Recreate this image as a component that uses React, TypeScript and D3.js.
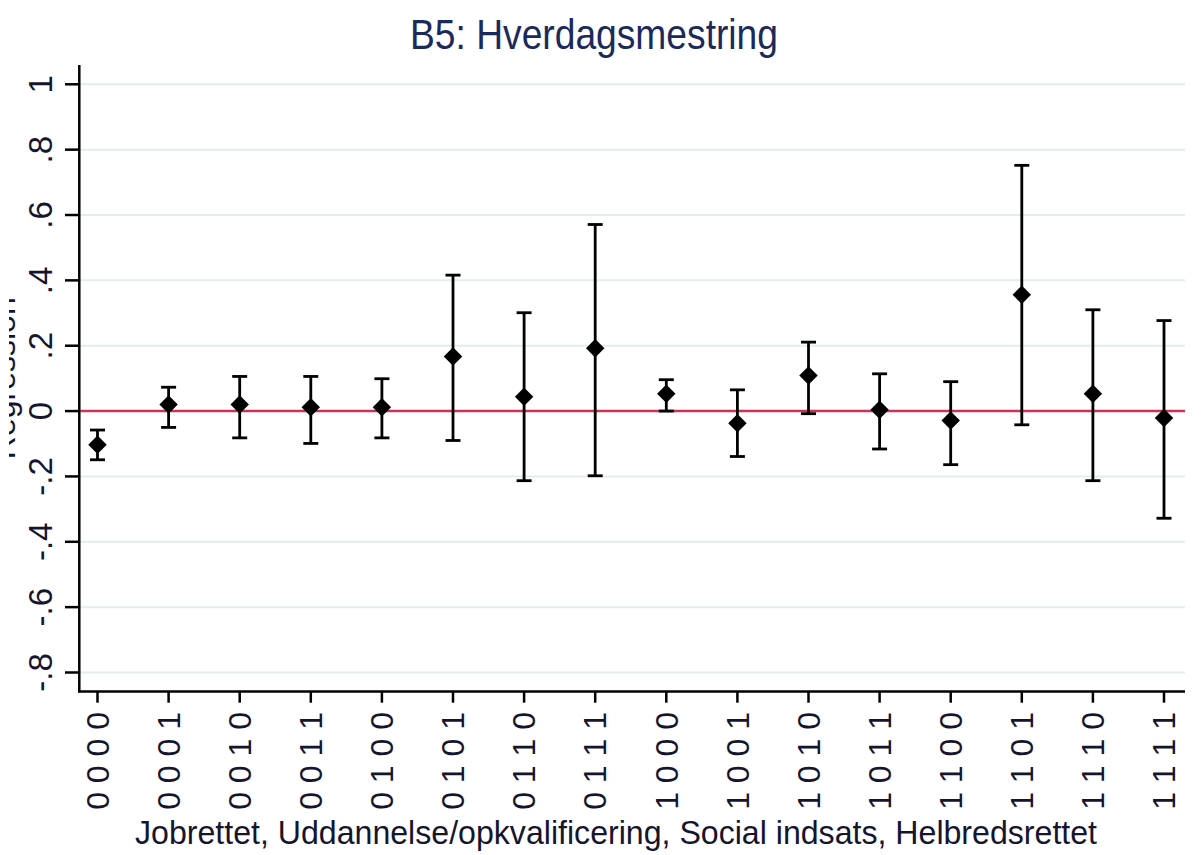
import React from 'react';
import * as d3 from 'd3';

// combinations: Jobrettet, Uddannelse/opkvalificering, Social indsats, Helbredsrettet
const combos = [
    '0 0 0 0', '0 0 0 1', '0 0 1 0', '0 0 1 1',
    '0 1 0 0', '0 1 0 1', '0 1 1 0', '0 1 1 1',
    '1 0 0 0', '1 0 0 1', '1 0 1 0', '1 0 1 1',
    '1 1 0 0', '1 1 0 1', '1 1 1 0', '1 1 1 1',
];
const estimate = [-0.103, 0.020, 0.020, 0.012, 0.012, 0.167, 0.044, 0.192, 0.053, -0.037, 0.109, 0.004, -0.029, 0.356, 0.053, -0.021];
const upper = [-0.058, 0.073, 0.106, 0.106, 0.099, 0.416, 0.301, 0.571, 0.096, 0.065, 0.211, 0.114, 0.090, 0.752, 0.310, 0.277];
const lower = [-0.149, -0.050, -0.082, -0.099, -0.082, -0.090, -0.213, -0.198, 0.000, -0.139, -0.008, -0.116, -0.164, -0.042, -0.213, -0.328];
const yTicks = [1, 0.8, 0.6, 0.4, 0.2, 0, -0.2, -0.4, -0.6, -0.8];
const yTickLabels = ['1', '.8', '.6', '.4', '.2', '0', '-.2', '-.4', '-.6', '-.8'];

const W = 1203;
const H = 855;
const left = 79.3, right = 1185, top = 65, bottom = 691.5;
const font = '"Liberation Sans", Arial, sans-serif';

const App: React.FC = () => {
    const x = d3.scaleLinear().domain([0, combos.length - 1]).range([97.5, 1164]);
    const y = d3.scaleLinear().domain([-0.8, 1]).range([672.5, 84.3]);
    const diamond = d3.symbol().type(d3.symbolSquare).size(170)();
    const cap = 7.5;

    return (
        <svg width={W} height={H} style={{ position: 'absolute', left: 0, top: 0, background: '#fff' }}
            fontFamily={font}>
            <defs>
                <clipPath id="ytitleclip">
                    <rect x={9} y={0} width={40} height={H} />
                </clipPath>
            </defs>

            {/* title */}
            <text x={594} y={49} textAnchor="middle" fontSize={43} fill="#1b2a5a"
                textLength={368} lengthAdjust="spacingAndGlyphs">B5: Hverdagsmestring</text>

            {/* grid */}
            {yTicks.map(t => (
                <line key={'g' + t} x1={left + 1} x2={right} y1={y(t)} y2={y(t)}
                    stroke="#e3eded" strokeWidth={2} />
            ))}

            {/* zero reference line */}
            <line x1={left + 1} x2={right} y1={y(0)} y2={y(0)} stroke="#cc3358" strokeWidth={2.5} />

            {/* y axis */}
            <line x1={left} x2={left} y1={top} y2={bottom + 1} stroke="#000" strokeWidth={2.5} />
            {yTicks.map((t, i) => (
                <g key={'y' + t}>
                    <line x1={65} x2={left} y1={y(t)} y2={y(t)} stroke="#000" strokeWidth={2.5} />
                    <text transform={`translate(40,${y(t)}) rotate(-90)`} textAnchor="middle" dy="0.35em"
                        fontSize={33} fill="#15152e">{yTickLabels[i]}</text>
                </g>
            ))}
            <g clipPath="url(#ytitleclip)">
                <text transform={`translate(15,${(top + bottom) / 2}) rotate(-90)`} textAnchor="middle"
                    fontSize={32} fill="#15152e">Regression</text>
            </g>

            {/* x axis */}
            <line x1={left - 1} x2={right} y1={bottom} y2={bottom} stroke="#000" strokeWidth={2.5} />
            {combos.map((c, i) => (
                <g key={'x' + c}>
                    <line x1={x(i)} x2={x(i)} y1={bottom} y2={702.7} stroke="#000" strokeWidth={2.5} />
                    <text transform={`translate(${x(i)},712) rotate(-90)`} textAnchor="end" dy="0.35em"
                        fontSize={32} fill="#15152e" xmlSpace="preserve">{c}</text>
                </g>
            ))}
            <text x={616} y={844} textAnchor="middle" fontSize={34} fill="#15152e"
                textLength={962} lengthAdjust="spacingAndGlyphs">
                Jobrettet, Uddannelse/opkvalificering, Social indsats, Helbredsrettet
            </text>

            {/* confidence intervals */}
            {estimate.map((e, i) => (
                <g key={'ci' + i} stroke="#000" strokeWidth={2.8}>
                    <line x1={x(i)} x2={x(i)} y1={y(upper[i])} y2={y(lower[i])} />
                    <line x1={x(i) - cap} x2={x(i) + cap} y1={y(upper[i])} y2={y(upper[i])} />
                    <line x1={x(i) - cap} x2={x(i) + cap} y1={y(lower[i])} y2={y(lower[i])} />
                </g>
            ))}

            {/* point estimates */}
            {estimate.map((e, i) => (
                <path key={'pt' + i} d={diamond ?? ''} fill="#000"
                    transform={`translate(${x(i)},${y(e)}) rotate(45)`} />
            ))}
        </svg>
    );
};

export default App;
